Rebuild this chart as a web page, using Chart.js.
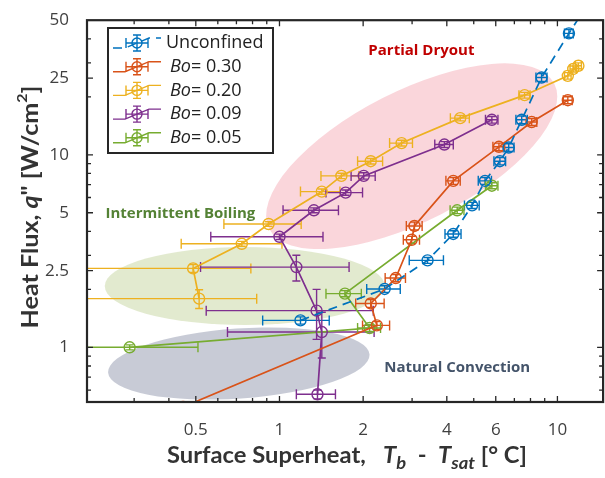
<!DOCTYPE html>
<html>
<head>
<meta charset="utf-8">
<script src="https://cdn.jsdelivr.net/npm/chart.js@4"></script>
<style>
html, body { margin: 0; padding: 0; overflow: hidden; background: #fff; }
#wrap { width: 610px; height: 478px; }
</style>
</head>
<body>
<div id="wrap"><canvas id="myChart"></canvas></div>
<script>
// values (superheat in °C, heat flux in W/cm2)
const seriesNames = ['Unconfined', '0.30', '0.20', '0.09', '0.05'];
const seriesColors = ['#0072BD', '#D95319', '#EDB120', '#7E2F8E', '#77AC30'];

const unconfX = [1.19, 2.39, 3.41, 4.22, 4.93, 5.49, 6.21, 6.68, 7.44, 8.77, 11.0, 12.8];
const unconfY = [1.38, 2.01, 2.83, 3.88, 5.46, 7.32, 9.26, 10.9, 15.2, 25.2, 42.7, 60];
const unconfXErr = [0.32, 0.33, 0.48, 0.28, 0.3, 0.3, 0.3, 0.3, 0.35, 0.4, 0.4, 0];
const unconfYErr = [0.06, 0.08, 0.1, 0.15, 0.2, 0.3, 0.4, 0.5, 0.7, 1.2, 2.0, 0];

const bo30X = [0.45, 2.24, 2.13, 2.62, 2.99, 3.06, 4.22, 6.16, 8.08, 10.9];
const bo30Y = [0.49, 1.30, 1.69, 2.29, 3.62, 4.27, 7.32, 11.0, 14.8, 19.2];
const bo30XErr = [0.1, 0.25, 0.25, 0.22, 0.2, 0.2, 0.25, 0.3, 0.35, 0.4];
const bo30YErr = [0.02, 0.06, 0.08, 0.1, 0.15, 0.2, 0.3, 0.5, 0.6, 0.8];

const bo20X = [0.514, 0.489, 0.732, 0.914, 1.42, 1.67, 2.13, 2.75, 4.47, 7.62, 10.9, 11.4, 11.9];
const bo20Y = [1.79, 2.57, 3.45, 4.37, 6.44, 7.77, 9.26, 11.5, 15.5, 20.4, 25.7, 27.9, 29.0];
const bo20XErr = [0.314, 0.30, 0.289, 0.283, 0.23, 0.26, 0.22, 0.26, 0.35, 0.35, 0.3, 0.3, 0.3];
const bo20YErr = [0.2, 0.12, 0.1, 0.12, 0.2, 0.25, 0.3, 0.4, 0.5, 0.7, 1.0, 1.0, 1.0];

const bo09X = [1.37, 1.42, 1.36, 1.15, 1.0, 1.33, 1.73, 2.01, 3.92, 5.81];
const bo09Y = [0.57, 1.20, 1.55, 2.61, 3.75, 5.15, 6.36, 7.77, 11.3, 15.2];
const bo09XErr = [0.22, 0.77, 0.815, 0.63, 0.434, 0.30, 0.26, 0.2, 0.3, 0.3];
const bo09YErr = [0.03, 0.32, 0.45, 0.4, 0.12, 0.15, 0.2, 0.3, 0.4, 0.6];

const bo05X = [0.289, 2.11, 1.72, 4.36, 5.81];
const bo05Y = [1.0, 1.26, 1.90, 5.15, 6.91];
const bo05XErr = [0.22, 0.2, 0.25, 0.25, 0.3];
const bo05YErr = [0.03, 0.05, 0.07, 0.2, 0.25];

const xTicks = [0.5, 1, 2, 4, 6, 10];
const yTicks = [1, 2.5, 5, 10, 25, 50];

// regime annotations: centre in data units, half axes in px, tilt in degrees
const regions = [
    { label: 'Partial Dryout', cx: 2.99, cy: 9.83, rx: 160, ry: 65, rot: -27, fill: 'rgba(240,120,135,0.3)',
      tx: 3.24, ty: 34.5, color: '#C00000' },
    { label: 'Intermittent Boiling', cx: 0.75, cy: 2.08, rx: 140, ry: 39, rot: 0, fill: 'rgba(160,185,95,0.3)',
      tx: 0.44, ty: 4.97, color: '#548235' },
    { label: 'Natural Convection', cx: 0.714, cy: 0.824, rx: 131, ry: 35, rot: -4, fill: 'rgba(117,125,152,0.4)',
      tx: 4.36, ty: 0.786, color: '#44546A' }
];

const allX = [unconfX, bo30X, bo20X, bo09X, bo05X];
const allY = [unconfY, bo30Y, bo20Y, bo09Y, bo05Y];
const allXErr = [unconfXErr, bo30XErr, bo20XErr, bo09XErr, bo05XErr];
const allYErr = [unconfYErr, bo30YErr, bo20YErr, bo09YErr, bo05YErr];

const FONT = '"Open Sans", "Noto Sans", sans-serif';
const TITLE_FONT = 'Lato, "Open Sans", sans-serif';

let datasets = [];
for (let i = 0; i < seriesNames.length; i++) {
    let pts = allX[i].map(function (x, j) { return { x: x, y: allY[i][j] } });
    datasets.push({
        label: seriesNames[i],
        data: pts,
        showLine: true,
        borderColor: seriesColors[i],
        backgroundColor: 'rgba(0,0,0,0)',
        borderWidth: 1.7,
        borderDash: i == 0 ? [9, 6] : [],
        pointRadius: 5.5,
        pointBorderWidth: 1.4,
        pointBorderColor: seriesColors[i],
        pointBackgroundColor: 'rgba(0,0,0,0)',
        xErr: allXErr[i],
        yErr: allYErr[i]
    });
}

const regionPlugin = {
    id: 'regions',
    beforeDatasetsDraw(chart) {
        const ctx = chart.ctx, xs = chart.scales.x, ys = chart.scales.y, a = chart.chartArea;
        ctx.save();
        ctx.beginPath();
        ctx.rect(a.left, a.top, a.right - a.left, a.bottom - a.top);
        ctx.clip();
        regions.forEach(function (r) {
            ctx.beginPath();
            ctx.ellipse(xs.getPixelForValue(r.cx), ys.getPixelForValue(r.cy), r.rx, r.ry, r.rot * Math.PI / 180, 0, 2 * Math.PI);
            ctx.fillStyle = r.fill;
            ctx.fill();
        });
        ctx.restore();
    }
};

const errorBarPlugin = {
    id: 'errorbars',
    beforeDatasetsDraw(chart) {
        const ctx = chart.ctx, xs = chart.scales.x, ys = chart.scales.y, a = chart.chartArea;
        ctx.save();
        ctx.beginPath();
        ctx.rect(a.left, a.top, a.right - a.left, a.bottom - a.top);
        ctx.clip();
        chart.data.datasets.forEach(function (ds) {
            ctx.strokeStyle = ds.borderColor;
            ctx.lineWidth = 1.4;
            ds.data.forEach(function (p, j) {
                const px = xs.getPixelForValue(p.x), py = ys.getPixelForValue(p.y);
                const dx = ds.xErr[j], dy = ds.yErr[j];
                if (dx > 0) {
                    const lo = p.x - dx > 0.01 ? xs.getPixelForValue(p.x - dx) : a.left - 20;
                    const hi = xs.getPixelForValue(p.x + dx);
                    ctx.beginPath();
                    ctx.moveTo(lo, py); ctx.lineTo(hi, py);
                    ctx.moveTo(lo, py - 5); ctx.lineTo(lo, py + 5);
                    ctx.moveTo(hi, py - 5); ctx.lineTo(hi, py + 5);
                    ctx.stroke();
                }
                if (dy > 0) {
                    const top = ys.getPixelForValue(p.y + dy), bot = ys.getPixelForValue(p.y - dy);
                    ctx.beginPath();
                    ctx.moveTo(px, top); ctx.lineTo(px, bot);
                    ctx.moveTo(px - 4, top); ctx.lineTo(px + 4, top);
                    ctx.moveTo(px - 4, bot); ctx.lineTo(px + 4, bot);
                    ctx.stroke();
                }
            });
        });
        ctx.restore();
    }
};

// draws parts [{t, style, shift, size}] one after another, centred on (cx, cy),
// stretched so the whole title is `len` px long
function drawParts(ctx, parts, cx, cy, baseSize, len) {
    let total = 0;
    parts.forEach(function (p) {
        ctx.font = (p.style || 'bold') + ' ' + (p.size || baseSize) + 'px ' + TITLE_FONT;
        p.w = ctx.measureText(p.t).width;
        total += p.w;
    });
    ctx.save();
    ctx.translate(cx, cy);
    ctx.scale(len / total, 1);
    let x = -total / 2;
    ctx.textBaseline = 'middle';
    ctx.textAlign = 'left';
    parts.forEach(function (p) {
        ctx.font = (p.style || 'bold') + ' ' + (p.size || baseSize) + 'px ' + TITLE_FONT;
        ctx.fillText(p.t, x, p.shift || 0);
        x += p.w;
    });
    ctx.restore();
}

const decorPlugin = {
    id: 'decor',
    afterDraw(chart) {
        const ctx = chart.ctx, xs = chart.scales.x, ys = chart.scales.y, a = chart.chartArea;
        ctx.save();

        // inward ticks on all four sides
        ctx.strokeStyle = '#262626';
        ctx.lineWidth = 1.3;
        for (let e = -1; e <= 1; e++) {
            for (let k = 1; k <= 9; k++) {
                const v = k * Math.pow(10, e);
                const len = xTicks.indexOf(v) >= 0 ? 6 : 4;
                if (v > xs.min && v < xs.max) {
                    const px = xs.getPixelForValue(v);
                    ctx.beginPath();
                    ctx.moveTo(px, a.bottom); ctx.lineTo(px, a.bottom - len);
                    ctx.moveTo(px, a.top); ctx.lineTo(px, a.top + len);
                    ctx.stroke();
                }
            }
        }
        for (let e = -1; e <= 1; e++) {
            for (let k = 1; k <= 9; k++) {
                const v = k * Math.pow(10, e);
                const len = yTicks.indexOf(v) >= 0 ? 6 : 4;
                if (v > ys.min && v < ys.max) {
                    const py = ys.getPixelForValue(v);
                    ctx.beginPath();
                    ctx.moveTo(a.left, py); ctx.lineTo(a.left + len, py);
                    ctx.moveTo(a.right, py); ctx.lineTo(a.right - len, py);
                    ctx.stroke();
                }
            }
        }
        [2.5, 25].forEach(function (v) {
            const py = ys.getPixelForValue(v);
            ctx.beginPath();
            ctx.moveTo(a.left, py); ctx.lineTo(a.left + 6, py);
            ctx.moveTo(a.right, py); ctx.lineTo(a.right - 6, py);
            ctx.stroke();
        });

        ctx.lineWidth = 2.2;
        ctx.strokeRect(a.left, a.top, a.right - a.left, a.bottom - a.top);

        // regime labels
        ctx.textAlign = 'center';
        ctx.textBaseline = 'middle';
        ctx.font = 'bold 15px ' + FONT;
        regions.forEach(function (r) {
            ctx.fillStyle = r.color;
            ctx.fillText(r.label, xs.getPixelForValue(r.tx), ys.getPixelForValue(r.ty));
        });

        // legend
        const lx = 108, ly = 28, lw = 165, lh = 125;
        ctx.fillStyle = '#fff';
        ctx.fillRect(lx, ly, lw, lh);
        ctx.strokeStyle = '#262626';
        ctx.lineWidth = 2;
        ctx.strokeRect(lx, ly, lw, lh);
        chart.data.datasets.forEach(function (ds, i) {
            const y = ly + 15 + i * 23.7;
            const c = ds.borderColor;
            ctx.strokeStyle = c;
            ctx.lineWidth = 1.4;
            ctx.setLineDash(ds.borderDash);
            ctx.beginPath();
            ctx.moveTo(lx + 5, y + 5); ctx.lineTo(lx + 17, y + 5);
            ctx.lineTo(lx + 41, y - 5); ctx.lineTo(lx + 53, y - 5);
            ctx.stroke();
            ctx.setLineDash([]);
            ctx.beginPath();
            ctx.moveTo(lx + 18, y); ctx.lineTo(lx + 40, y);
            ctx.moveTo(lx + 18, y - 5); ctx.lineTo(lx + 18, y + 5);
            ctx.moveTo(lx + 40, y - 5); ctx.lineTo(lx + 40, y + 5);
            ctx.moveTo(lx + 29, y - 8); ctx.lineTo(lx + 29, y + 8);
            ctx.moveTo(lx + 25, y - 8); ctx.lineTo(lx + 33, y - 8);
            ctx.moveTo(lx + 25, y + 8); ctx.lineTo(lx + 33, y + 8);
            ctx.stroke();
            ctx.beginPath();
            ctx.arc(lx + 29, y, 5, 0, 2 * Math.PI);
            ctx.stroke();
            ctx.fillStyle = '#222';
            ctx.textAlign = 'left';
            ctx.textBaseline = 'middle';
            if (i == 0) {
                ctx.font = '18px ' + FONT;
                ctx.fillText(ds.label, lx + 58, y);
            } else {
                ctx.font = 'italic 18px ' + FONT;
                ctx.fillText('Bo', lx + 62, y);
                const w = ctx.measureText('Bo').width;
                ctx.font = '18px ' + FONT;
                ctx.fillText('= ' + ds.label, lx + 62 + w, y);
            }
        });

        // axis titles
        ctx.fillStyle = '#333';
        drawParts(ctx, [
            { t: 'Surface Superheat,   ' },
            { t: 'T', style: 'italic bold' },
            { t: 'b', style: 'italic bold', size: 17, shift: 8 },
            { t: '  -  ' },
            { t: 'T', style: 'italic bold' },
            { t: 'sat', style: 'italic bold', size: 17, shift: 8 },
            { t: ' [° C]' }
        ], 347, 456, 22, 360);
        ctx.translate(31, 207);
        ctx.rotate(-Math.PI / 2);
        drawParts(ctx, [
            { t: 'Heat Flux, ' },
            { t: 'q', style: 'italic bold' },
            { t: '" [W/cm' },
            { t: '2', size: 14, shift: -9 },
            { t: ']' }
        ], 0, 0, 22, 243);
        ctx.restore();
    }
};

new Chart('myChart', {
    type: 'scatter',
    data: { datasets: datasets },
    options: {
        responsive: true,
        maintainAspectRatio: false,
        animation: false,
        layout: { padding: { top: 14, right: 3, left: 0, bottom: 0 } },
        scales: {
            x: {
                type: 'logarithmic',
                min: 0.203,
                max: 14.6,
                grid: { display: false },
                border: { display: false },
                afterBuildTicks: function (s) { s.ticks = xTicks.map(function (v) { return { value: v } }) },
                afterFit: function (s) { s.height = 76 },
                ticks: {
                    autoSkip: false, maxRotation: 0, padding: 10, color: '#404040',
                    font: { family: FONT, size: 17 },
                    callback: function (v) { return String(v) }
                }
            },
            y: {
                type: 'logarithmic',
                min: 0.52,
                max: 50,
                grid: { display: false },
                border: { display: false },
                afterBuildTicks: function (s) { s.ticks = yTicks.map(function (v) { return { value: v } }) },
                afterFit: function (s) { s.width = 87 },
                ticks: {
                    autoSkip: false, padding: 10, color: '#404040',
                    font: { family: FONT, size: 17 },
                    callback: function (v) { return String(v) }
                }
            }
        },
        plugins: {
            legend: { display: false },
            tooltip: { enabled: false }
        }
    },
    plugins: [regionPlugin, errorBarPlugin, decorPlugin]
});
</script>
</body>
</html>
